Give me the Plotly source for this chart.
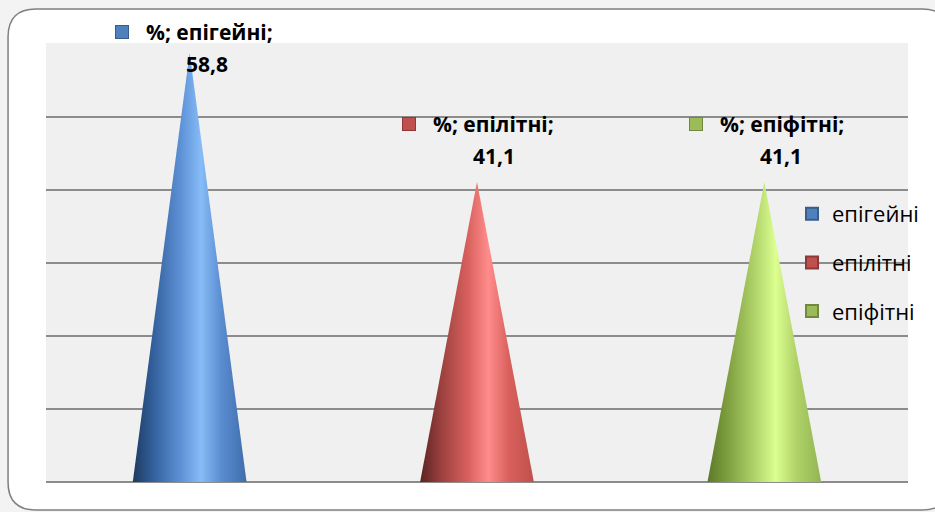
import plotly.graph_objects as go

# Share of species by substrate group, %
categories = ["епігейні", "епілітні", "епіфітні"]
values = [58.8, 41.1, 41.1]
series_name = "%"

base_colors = ["#4f81bd", "#c0504d", "#9bbb59"]
edge_colors = ["#385d8a", "#8c3836", "#71893f"]
cone_shades = [
    [[0.0, "#1f3a60"], [0.18, "#33609c"], [0.42, "#5d91d6"], [0.6, "#86bcf7"],
     [0.78, "#5a8cd0"], [1.0, "#3f6dab"]],
    [[0.0, "#5a2422"], [0.18, "#99403d"], [0.42, "#d8615e"], [0.6, "#ff8d8b"],
     [0.78, "#d9605c"], [1.0, "#bf504c"]],
    [[0.0, "#5c7a2c"], [0.18, "#7f9f40"], [0.42, "#b1d46a"], [0.6, "#dcff90"],
     [0.78, "#b0d268"], [1.0, "#93b552"]],
]

W, H = 935, 512
L, R, T, B = 46, 26, 43, 30
pw, ph = W - L - R, H - T - B


def px(x):
    return (x - L) / pw


def py(y):
    return (H - B - y) / ph


half_width = 0.198
label_cap = 53.7

fig = go.Figure()

for i, (cat, v) in enumerate(zip(categories, values)):
    fig.add_trace(go.Scatter(
        x=[i - half_width, i, i + half_width, i - half_width],
        y=[0, v, 0, 0],
        mode="lines",
        line=dict(width=0),
        fill="toself",
        fillgradient=dict(type="horizontal", colorscale=cone_shades[i]),
        showlegend=False,
        hoverinfo="skip",
    ))

# legend entries
for i, cat in enumerate(categories):
    fig.add_trace(go.Scatter(
        x=[None], y=[None], mode="markers", name=cat,
        legendgroup=cat,
        marker=dict(symbol="square", size=15, color=base_colors[i],
                    line=dict(color=edge_colors[i], width=1)),
    ))

label_font = dict(family="Open Sans, sans-serif", size=21, color="#000000")
for i, (cat, v) in enumerate(zip(categories, values)):
    ly = min(v, label_cap)
    fig.add_annotation(x=i, y=ly, text=f"<b>{series_name}; {cat};</b>", showarrow=False,
                       xanchor="left", yanchor="middle", xshift=-46, yshift=58,
                       font=label_font)
    fig.add_annotation(x=i, y=ly, text="<b>" + f"{v:.1f}".replace(".", ",") + "</b>",
                       showarrow=False, xanchor="center", yanchor="middle",
                       xshift=17, yshift=26, font=label_font)
    # series key square in front of the label
    fig.add_annotation(x=i, y=ly, text=" ", showarrow=False,
                       xanchor="center", yanchor="middle", xshift=-68, yshift=58,
                       width=12, height=12, borderpad=0, borderwidth=1,
                       bgcolor=base_colors[i], bordercolor=edge_colors[i],
                       font=dict(size=4))

# chart frame with rounded corners
r = 28
x0, x1, y0, y1 = 8, 951, 9, 510
path = (
    f"M {px(x0 + r)} {py(y0)} L {px(x1 - r)} {py(y0)} "
    f"Q {px(x1)} {py(y0)} {px(x1)} {py(y0 + r)} L {px(x1)} {py(y1 - r)} "
    f"Q {px(x1)} {py(y1)} {px(x1 - r)} {py(y1)} L {px(x0 + r)} {py(y1)} "
    f"Q {px(x0)} {py(y1)} {px(x0)} {py(y1 - r)} L {px(x0)} {py(y0 + r)} "
    f"Q {px(x0)} {py(y0)} {px(x0 + r)} {py(y0)} Z"
)
fig.add_shape(type="path", xref="paper", yref="paper", path=path, layer="below",
              fillcolor="#ffffff", line=dict(color="#7f7f7f", width=1.5))
fig.add_shape(type="rect", xref="paper", yref="paper", x0=0, x1=1, y0=0, y1=1,
              layer="below", fillcolor="#f0f0f0", line=dict(width=0))

fig.update_layout(
    width=W, height=H,
    margin=dict(l=L, r=R, t=T, b=B),
    paper_bgcolor="#f3f3f3",
    plot_bgcolor="rgba(0,0,0,0)",
    xaxis=dict(range=[-0.5, 2.5], visible=False, fixedrange=True),
    yaxis=dict(range=[0, 60.12], dtick=10, tick0=0, showticklabels=False,
               showgrid=True, gridcolor="#8c8c8c", gridwidth=2,
               zeroline=True, zerolinecolor="#8c8c8c", zerolinewidth=2,
               showline=False, ticks="", fixedrange=True),
    legend=dict(x=px(924), y=py(193), xanchor="right", yanchor="top",
                bgcolor="rgba(0,0,0,0)", traceorder="grouped", tracegroupgap=17,
                font=dict(family="Open Sans, sans-serif", size=22, color="#000000"),
                itemsizing="constant"),
    showlegend=True,
)

fig.write_html("out.html")
